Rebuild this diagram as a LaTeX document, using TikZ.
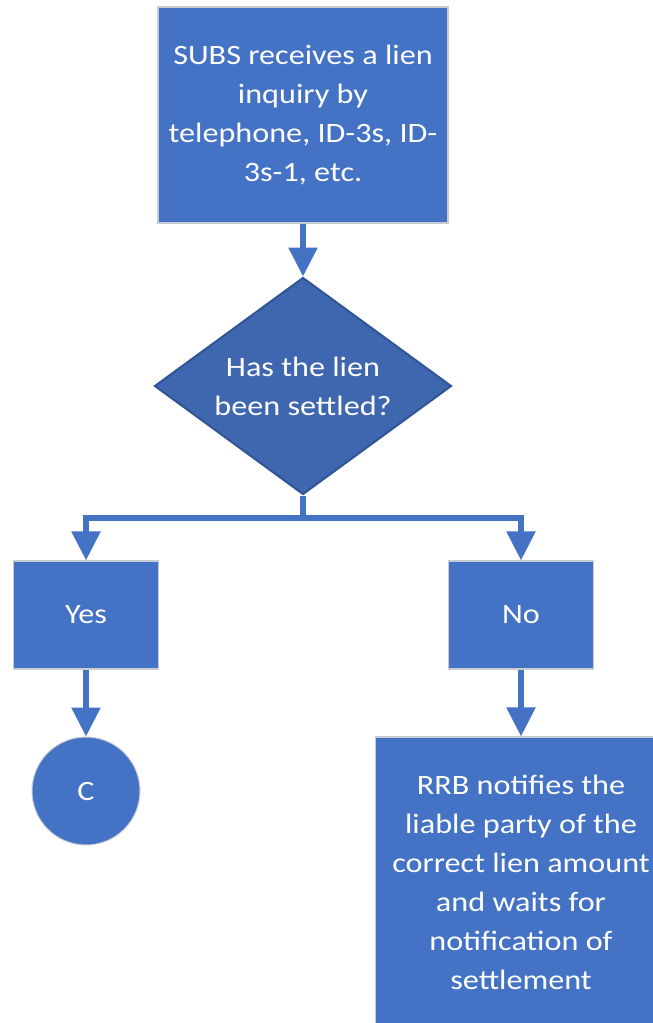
\documentclass[tikz,border=0pt]{standalone}
\usepackage{fontspec}
\setmainfont{Carlito}[FakeStretch=1.15]
\usetikzlibrary{arrows.meta,shapes.geometric}
\definecolor{ofblue}{HTML}{4472C4}
\definecolor{diafill}{HTML}{3F67AF}
\definecolor{diaedge}{HTML}{2F5597}
\definecolor{boxedge}{HTML}{C9CCD3}
\tikzset{
  txt/.style={text=white, font=\fontsize{28}{39}\selectfont, align=center, inner sep=0pt},
  procbox/.style={txt, rectangle, fill=ofblue, draw=boxedge, line width=1.2pt},
  decbox/.style={txt, diamond, fill=diafill, draw=diaedge, line width=2pt, aspect=1.37},
  endcirc/.style={txt, circle, fill=ofblue, draw=boxedge, line width=1pt, minimum size=108pt},
  arr/.style={draw=ofblue, line width=5.5pt, -{Triangle[width=28pt,length=29pt]}}
}
\begin{document}
\begin{tikzpicture}[x=1pt,y=-1pt]
\useasboundingbox (0,0) rectangle (653,1023);
\node[procbox, minimum width=290pt, minimum height=216pt] (top) at (303,115)
  {SUBS receives a lien\\inquiry by\\telephone, ID-3s, ID-\\3s-1, etc.};
\node[decbox, minimum width=297pt, minimum height=217pt] (dia) at (303,386)
  {Has the lien\\been settled?};
\node[procbox, minimum width=145pt, minimum height=108pt] (yes) at (86,615) {Yes};
\node[procbox, minimum width=145pt, minimum height=108pt] (no) at (521,615) {No};
\node[endcirc] (c) at (86,791) {C};
\node[procbox, minimum width=291pt, minimum height=290pt] (rrb) at (521,882)
  {RRB notifies the\\liable party of the\\correct lien amount\\and waits for\\notification of\\settlement};
\coordinate (split) at (303,518);
\draw[arr] (top.south) -- (dia.north);
\draw[draw=ofblue, line width=5.5pt] (dia.south) -- (split);
\draw[arr] (split) -| (yes.north);
\draw[arr] (split) -| (no.north);
\draw[arr] (yes.south) -- (c.north);
\draw[arr] (no.south) -- (rrb.north);
\end{tikzpicture}
\end{document}
